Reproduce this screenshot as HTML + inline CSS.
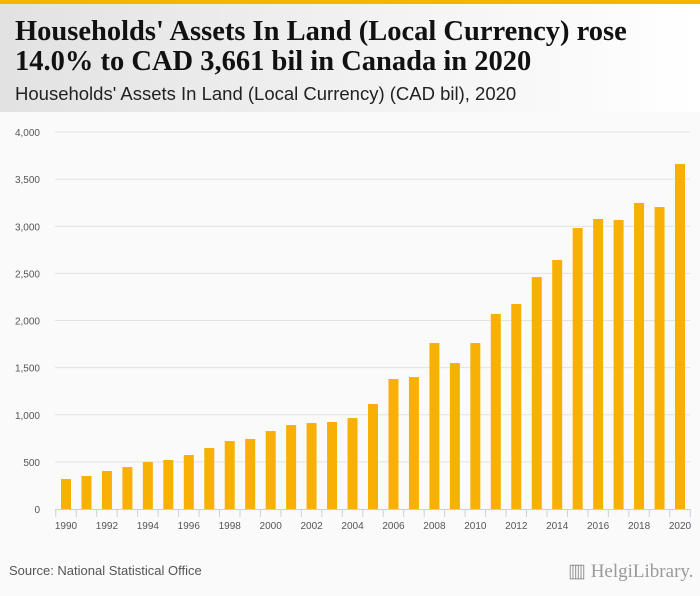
<!DOCTYPE html>
<html><head><meta charset="utf-8"><style>
body{margin:0;width:700px;height:596px;overflow:hidden;background:#fafafa;font-family:"Liberation Sans",sans-serif}
#top{position:absolute;left:0;top:0;width:700px;height:4px;background:#f5b400}
#hdr{position:absolute;left:0;top:4px;width:700px;height:108px;background:linear-gradient(90deg,#e2e2e2,#f4f4f4 60%,#fff)}
h1{position:absolute;left:15px;top:13px;margin:0;font-family:"Liberation Serif",serif;font-size:28.5px;line-height:30px;font-weight:bold;color:#111;white-space:nowrap}
#sub{position:absolute;left:15px;top:79px;font-size:18.5px;color:#222;white-space:nowrap}
#src{position:absolute;left:9px;top:563px;font-size:13px;color:#555}
#logo{position:absolute;left:568px;top:560px;font-family:"Liberation Serif",serif;font-size:19px;color:#999}
svg{position:absolute;left:0;top:0}
</style></head><body>
<div id="top"></div>
<div id="hdr">
<h1>Households' Assets In Land (Local Currency) rose<br>14.0% to CAD 3,661 bil in Canada in 2020</h1>
<div id="sub">Households' Assets In Land (Local Currency) (CAD bil), 2020</div>
</div>
<svg id="chart" width="700" height="596"></svg>
<div id="src">Source: National Statistical Office</div>
<div id="logo">▥ Helgi<span style="font-weight:normal">Library.</span></div>
<script>
const years=[1990,1991,1992,1993,1994,1995,1996,1997,1998,1999,2000,2001,2002,2003,2004,2005,2006,2007,2008,2009,2010,2011,2012,2013,2014,2015,2016,2017,2018,2019,2020];
const values=[318,350,403,445,499,520,573,647,721,743,827,891,912,923,965,1114,1379,1400,1761,1549,1761,2069,2175,2461,2642,2981,3077,3066,3247,3204,3661];
const yTicks=[0,500,1000,1500,2000,2500,3000,3500,4000];
const ns="http://www.w3.org/2000/svg";
const svg=document.getElementById('chart');
const y0=509,yTop=132,yMax=4000;
const x0=66,step=(680-66)/30;
const ys=v=>y0-(y0-yTop)*v/yMax;
const xs=i=>x0+i*step;
function mk(t,a){const e=document.createElementNS(ns,t);for(const k in a)e.setAttribute(k,a[k]);svg.appendChild(e);return e;}
yTicks.forEach(v=>{
 if(v>0){const l=mk('line',{x1:55,x2:690,y1:ys(v),y2:ys(v),stroke:'#e2e2e2','stroke-width':1});
 
 }
 const t=mk('text',{x:40,y:ys(v)+4,'text-anchor':'end','font-size':'10','fill':'#555','font-family':'Liberation Sans, sans-serif'});
 t.textContent=v.toLocaleString('en-US');
 
 
});
const ax=mk('line',{x1:55,x2:690,y1:y0+0.5,y2:y0+0.5,stroke:'#c8d0e0'});


for(let i=0;i<=years.length;i++){const x=xs(i)-step/2;const tk=mk('line',{x1:x,x2:x,y1:y0,y2:y0+8,stroke:'#c8d0e0'});
 
 }
years.forEach((yr,i)=>{
 const v=values[i];
 const r=mk('rect',{x:xs(i)-5,y:ys(v),width:10,height:y0-ys(v),fill:'#f8b005'});
 
 
 if(i%2===0){const t=mk('text',{x:xs(i),y:529,'text-anchor':'middle','font-size':'10','fill':'#555','font-family':'Liberation Sans, sans-serif'});
 t.textContent=yr;
 
 }
});
</script>
</body></html>
